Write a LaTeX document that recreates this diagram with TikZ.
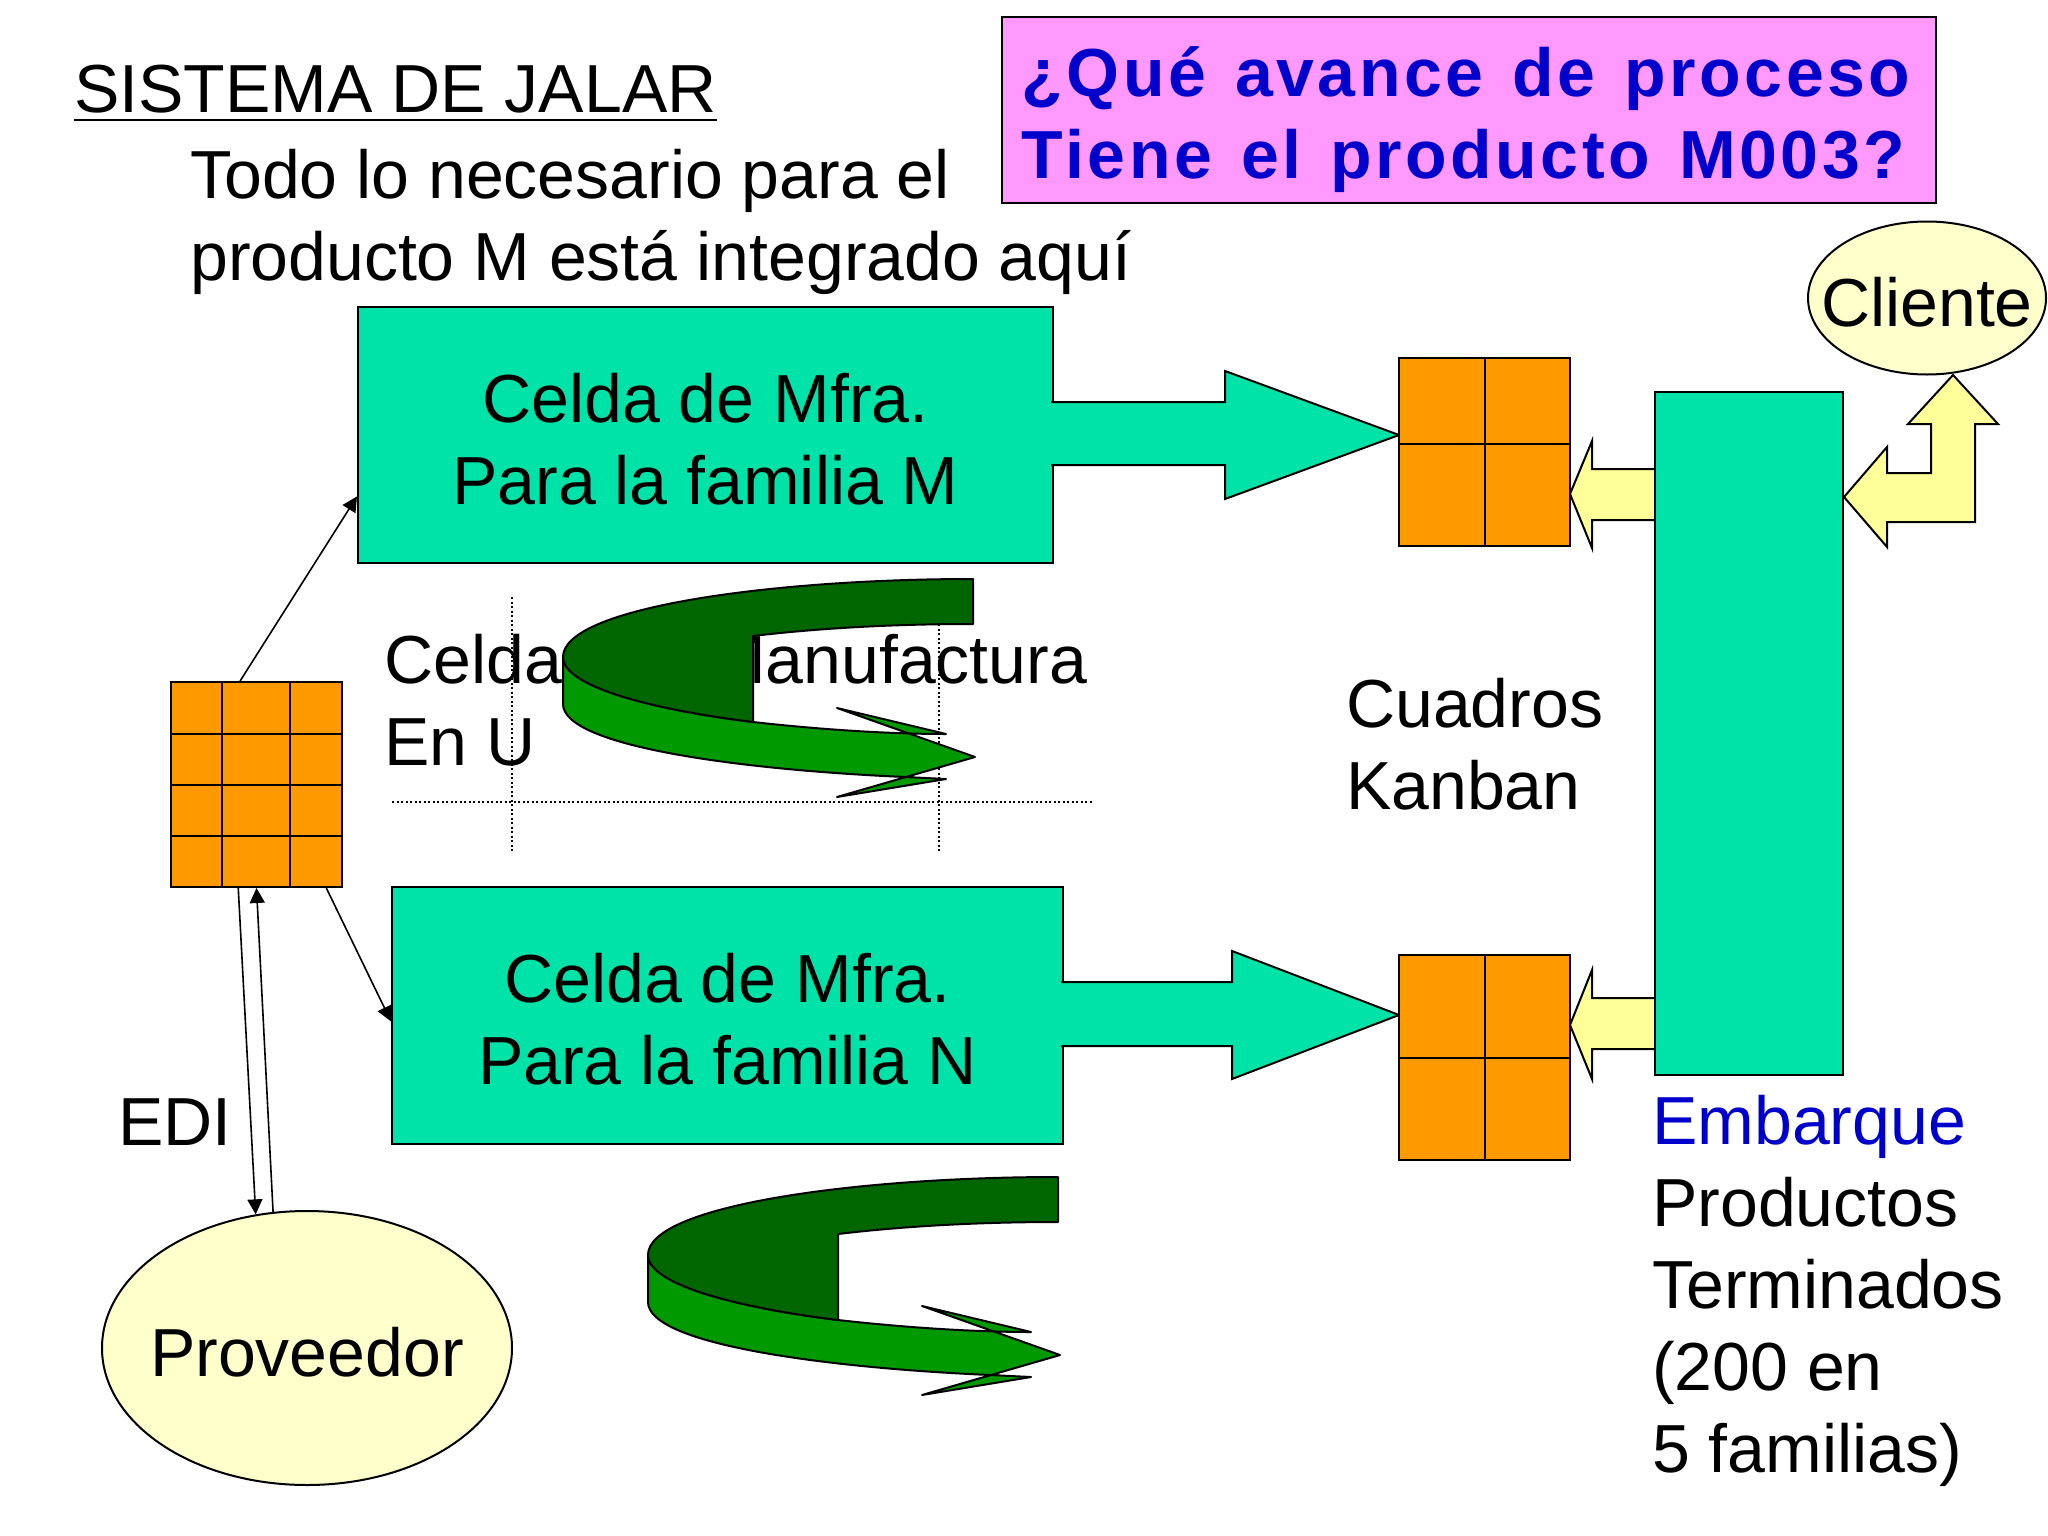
\documentclass[tikz,border=0pt]{standalone}
\usepackage{fontspec}
\usepackage{xcolor}
\setmainfont{Liberation Sans}
\newfontfamily\askfont[LetterSpace=5.2,WordSpace=1.3]{Liberation Sans}
\usepackage{tikz}
\usetikzlibrary{positioning,arrows.meta,shapes.geometric}

\definecolor{cellteal}{HTML}{00E3A8}
\definecolor{binorange}{HTML}{FF9900}
\definecolor{softyellow}{HTML}{FFFF99}
\definecolor{paleyellow}{HTML}{FFFFCC}
\definecolor{askpink}{HTML}{FF99FF}
\definecolor{askblue}{HTML}{0000CC}
\definecolor{bandlight}{HTML}{009900}
\definecolor{banddark}{HTML}{006600}

\tikzset{
    bigtext/.style={font=\fontsize{68}{82}\selectfont,inner sep=0pt,align=left},
    celltext/.style={bigtext,align=center,yshift=-4pt},
    cellbox/.style={draw,fill=cellteal,line width=2pt,inner sep=0pt},
    binbox/.style={draw,fill=binorange,line width=2pt,inner sep=0pt},
    binline/.style={line width=2pt},
    oval/.style={draw,fill=paleyellow,ellipse,line width=2pt,inner sep=0pt},
    thin link/.style={line width=1.6pt,-{Stealth[length=15pt,width=15pt,inset=0pt]}},
    guide/.style={line width=1.6pt,dash pattern=on 2pt off 2.5pt},
    blockgreen/.style={draw,fill=cellteal,line width=2pt,line join=miter},
    blockyellow/.style={draw,fill=softyellow,line width=2pt,line join=miter},
    bandedge/.style={draw,line width=2pt,line join=round}
}

\begin{document}
\begin{tikzpicture}[x=1pt,y=-1pt]
    \useasboundingbox (0,0) rectangle (2048,1536);

    % texts under the ribbon
    \node[bigtext,anchor=base west] (cellU) at (384,765)
        {Celda de\hspace{34pt} Manufactura\\En U};
    \draw[guide] (512,597) -- (512,851);
    \draw[guide] (939,597) -- (939,851);
    \draw[guide] (392,802) -- (1092,802);

    \node[bigtext,anchor=base west] (title) at (74,113) {SISTEMA DE JALAR};
    \draw[line width=2.6pt] ([yshift=-7pt]title.base west) -- ([yshift=-7pt]title.base east);
    \node[bigtext,anchor=base west] (note) at (190,280)
        {Todo lo necesario para el\\producto M está integrado aquí};
    \node[draw,fill=askpink,line width=2pt,minimum width=934pt,minimum height=185pt,
        inner sep=0pt] (ask) at (1469,110) {};
    \node[inner sep=0pt,align=left,text=askblue,xshift=-3pt,yshift=-10pt,
        font=\askfont\bfseries\fontsize{68}{82}\selectfont]
        (asktext) at (ask) {¿Qué avance de proceso\\Tiene el producto M003?};

    % the two cells
    \node[cellbox,minimum width=695pt,minimum height=256pt] (cellM) at (705.5,435) {};
    \node[celltext] (labelM) at (cellM) {Celda de Mfra.\\Para la familia M};
    \node[cellbox,minimum width=671pt,minimum height=257pt] (cellN) at (727.5,1015.5) {};
    \node[celltext] (labelN) at (cellN) {Celda de Mfra.\\Para la familia N};

    \draw[blockgreen] (1051,402) -- (1225,402) -- (1225,371) -- (1399,435)
        -- (1225,499) -- (1225,465) -- (1051,465);
    \draw[blockgreen] (1061,982) -- (1232,982) -- (1232,951) -- (1399,1015)
        -- (1232,1079) -- (1232,1046) -- (1061,1046);

    % kanban boards
    \node[binbox,minimum width=171pt,minimum height=188pt] (binM) at (1484.5,452) {};
    \node[binbox,minimum width=171pt,minimum height=205pt] (binN) at (1484.5,1057.5) {};
    \draw[binline] (binM.north) -- (binM.south);
    \draw[binline] (binN.north) -- (binN.south);
    \draw[binline] (1399,444) -- (1570,444);
    \draw[binline] (binN.west) -- (binN.east);

    \draw[blockyellow] (1655,469) -- (1592,469) -- (1592,441) -- (1570,494)
        -- (1592,548) -- (1592,520) -- (1655,520);
    \draw[blockyellow] (1655,998) -- (1592,998) -- (1592,970) -- (1570,1025)
        -- (1592,1079) -- (1592,1049) -- (1655,1049);
    \node[cellbox,minimum width=188pt,minimum height=683pt] (ship) at (1749,733.5) {};

    \node[oval,minimum width=238pt,minimum height=153pt] (client) at (1927,298) {};
    \node[celltext] (labelclient) at (client) {Cliente};
    \draw[blockyellow] (1844,497) -- (1887,447) -- (1887,473) -- (1931,473) -- (1931,424)
        -- (1908,424) -- (1953,375) -- (1998,424) -- (1975,424) -- (1975,522)
        -- (1887,522) -- (1887,547) -- cycle;

    % order board and supplier
    \node[binbox,minimum width=171pt,minimum height=205pt] (orders) at (256.5,784.5) {};
    \foreach \xline in {222,290}
        \draw[binline] (\xline,682) -- (\xline,887);
    \foreach \yline in {734,785,836}
        \draw[binline] (171,\yline) -- (342,\yline);
    \node[oval,minimum width=410pt,minimum height=274pt] (supplier) at (307,1348) {};
    \node[celltext] (labelsupplier) at (supplier) {Proveedor};

    \draw[thin link] (orders.99.7) -- (cellM.190);
    \draw[thin link] (orders.-56.6) -- (cellN.181.3);
    \draw[thin link] (orders.260.3) -- (supplier.111);
    \draw[thin link] (supplier.104.5) -- (orders.south);

    \node[bigtext,anchor=base west] (edi) at (118,1145) {EDI};
    \node[bigtext,anchor=base west] (kanban) at (1346,809) {Cuadros\\Kanban};
    \node[bigtext,anchor=base west] (stock) at (1652,1472)
        {\textcolor{askblue}{Embarque}\\Productos\\Terminados\\(200 en\\5 familias)};

    % ribbons
    \foreach \dx/\dy in {0/0,85/598} {
        \begin{scope}[shift={(\dx,\dy)}]
            \path[bandedge,fill=bandlight] (563,657) .. controls (563,687) and (655,710) .. (753,722)
                .. controls (815,729) and (885,734) .. (946,734) -- (837,708) -- (975,757)
                -- (837,797) -- (946,779) -- (905,777) .. controls (745,770) and (563,747) .. (563,704)
                -- cycle;
            \path[bandedge,fill=banddark] (973,579) .. controls (775,579) and (563,607) .. (563,657)
                .. controls (563,687) and (655,710) .. (753,722) -- (753,636)
                .. controls (820,628) and (895,624) .. (973,624) -- cycle;
        \end{scope}
    }
\end{tikzpicture}
\end{document}
